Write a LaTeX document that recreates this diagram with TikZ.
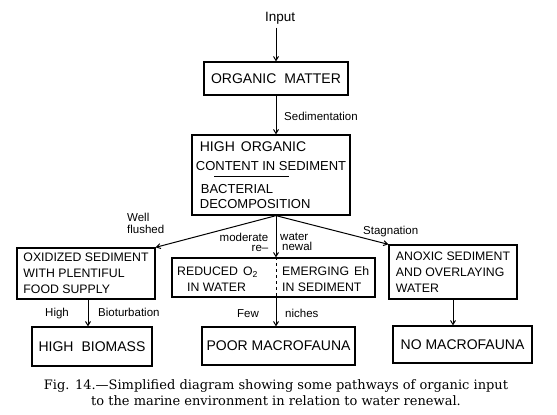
\documentclass[tikz,border=0pt]{standalone}
\usepackage{fontspec}
\setmainfont{Liberation Sans}
\newfontfamily\capfont{DejaVu Serif}
\usetikzlibrary{arrows.meta}

\begin{document}
\begin{tikzpicture}[x=1pt, y=-1pt,
  every node/.style = {inner sep=0pt, align=left}]
    \tikzstyle{box}=[draw, line width=1.3pt]
    \tikzstyle{big}=[font=\fontsize{14}{16}\selectfont]
    \tikzstyle{mid}=[font=\fontsize{12.3}{15.8}\selectfont]
    \tikzstyle{lbl}=[font=\fontsize{11.5}{10.5}\selectfont]
    \tikzstyle{flow}=[line width=1pt, -{Straight Barb[length=4pt,width=5pt]}]
  \useasboundingbox (0,0) rectangle (557,415);
  % boxes
  \node[box, big, minimum width=144pt, minimum height=33pt] (om) at (276,78.5)
    {ORGANIC\hspace{8pt}MATTER};
  \node[box, minimum width=158pt, minimum height=80pt,
    font=\fontsize{13}{14.5}\selectfont] (hoc) at (271,175)
    {\hspace*{4pt}{\fontsize{14}{14.5}\selectfont HIGH\hspace{6pt}ORGANIC}\\[4.5pt]
     CONTENT IN SEDIMENT\\[8.5pt]
     \hspace*{5pt}BACTERIAL\\
     \hspace*{4pt}DECOMPOSITION};
  \coordinate (fork) at (om.south |- hoc.south);
  \node[box, mid, minimum width=138pt, minimum height=51pt] (lb) at (86,273.5)
    {OXIDIZED SEDIMENT\\WITH PLENTIFUL\\FOOD SUPPLY};
  \node[box, minimum width=203pt, minimum height=39pt] (cb) at (273.5,277.5) {};
  \node[mid, anchor=north west] (redw) at (177,266.5)
    {REDUCED\hspace{5pt}O\textsubscript{2}\\\hspace*{10pt}IN WATER};
  \node[mid, anchor=north west] (emeh) at (282,266.5)
    {EMERGING\hspace{5pt}Eh\\IN SEDIMENT};
  \node[box, mid, minimum width=128pt, minimum height=54pt] (rb) at (453,272)
    {ANOXIC SEDIMENT\\AND OVERLAYING\\WATER};
  \node[box, big, minimum width=120pt, minimum height=39pt] (hb) at (92,346.5)
    {HIGH\hspace{8pt}BIOMASS};
  \node[box, big, minimum width=153pt, minimum height=38pt] (pm) at (278.5,346)
    {POOR MACROFAUNA};
  \node[box, big, minimum width=139pt, minimum height=37pt] (nm) at (462.5,344.5)
    {NO MACROFAUNA};
  % labels
  \node[lbl, font=\fontsize{13.5}{15}\selectfont, anchor=base west] (input) at (265,21.5) {Input};
  \node[lbl, anchor=base west] (sed) at (284,120) {Sedimentation};
  \node[lbl, font=\fontsize{11.5}{12}\selectfont, anchor=north west] (well) at (127,213) {Well\\flushed};
  \node[lbl, anchor=north east, align=right] (mod) at (268.5,232.5) {moderate\\re–};
  \node[lbl, anchor=north west] (wat) at (280,232.5) {water\\\hspace*{2pt}newal};
  \node[lbl, anchor=base west] (stag) at (363,234.5) {Stagnation};
  \node[lbl, anchor=base west] (high) at (45,316) {High};
  \node[lbl, anchor=base west] (biot) at (98,316) {Bioturbation};
  \node[lbl, anchor=base west] (few) at (237,317) {Few};
  \node[lbl, anchor=base west] (nich) at (285,317) {niches};
  % caption
  \node[font=\capfont\fontsize{13}{16}\selectfont, align=center, anchor=north] (cap) at (276,379.5)
    {Fig. 14.—Simplified diagram showing some pathways of organic input\\
     to the marine environment in relation to water renewal.};
  % connectors
  \draw[flow, shorten <=3pt] (input.south -| om.north) -- (om.north);
  \draw[flow] (om.south) -- (fork |- hoc.north);
  \draw[line width=0.9pt] ([shift={(23,42)}]hoc.north west) -- ++(75,0);
  \draw[flow] (fork) -- (lb.north east);
  \draw[flow] (fork) -- (fork |- cb.north);
  \draw[flow] (fork) -- (rb.north west);
  \draw[line width=1pt, dash pattern=on 3pt off 3pt] (fork |- cb.north) -- (fork |- cb.south);
  \draw[flow] (fork |- cb.south) -- (fork |- pm.north);
  \draw[flow] ([xshift=2pt]lb.south) -- ([xshift=2pt]lb.south |- hb.north);
  \draw[flow] (rb.south) -- (rb.south |- nm.north);
\end{tikzpicture}
\end{document}
